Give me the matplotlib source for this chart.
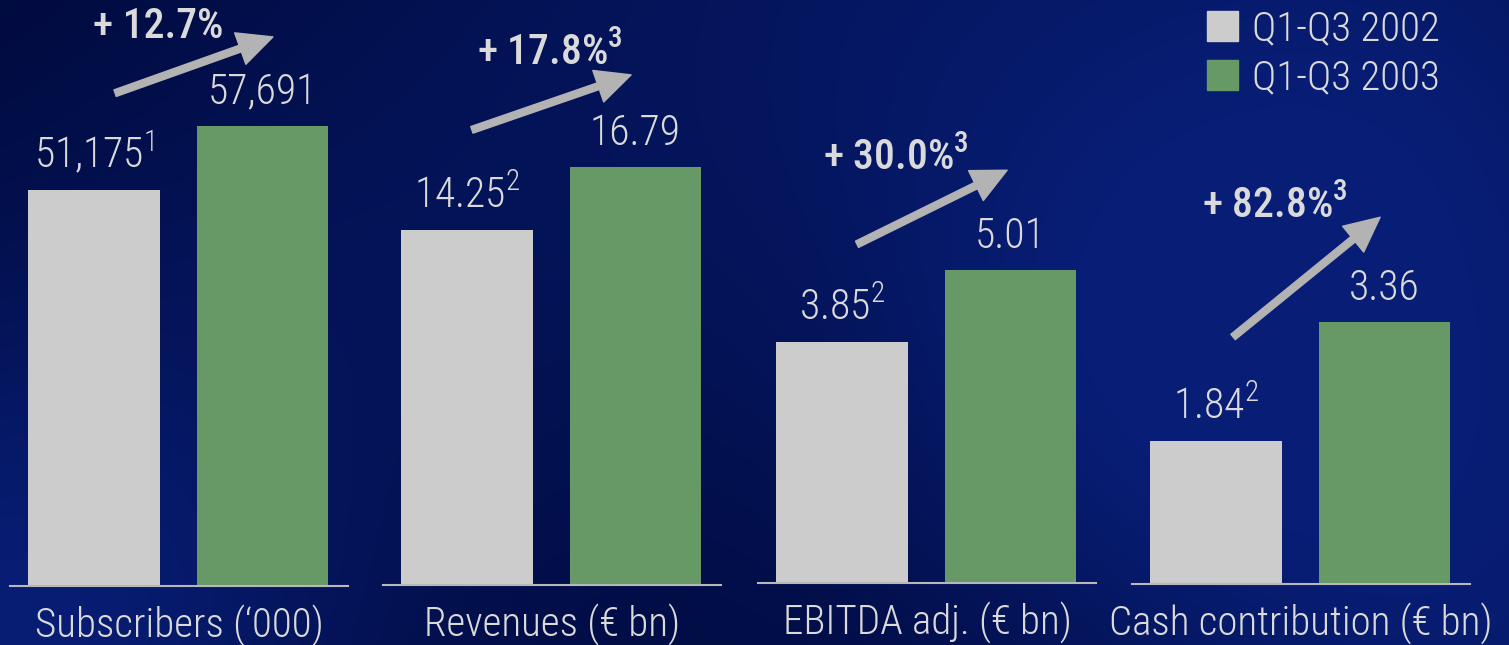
import numpy as np
import matplotlib.pyplot as plt
from matplotlib.patches import Patch

# chart data
categories = ["Subscribers (\u2018000)", "Revenues (\u20ac bn)", "EBITDA adj. (\u20ac bn)", "Cash contribution (\u20ac bn)"]
years = ["Q1-Q3 2002", "Q1-Q3 2003"]
values_2002 = [51175, 14.25, 3.85, 1.84]
values_2003 = [57691, 16.79, 5.01, 3.36]
labels_2002 = ["51,175$^{1}$", "14.25$^{2}$", "3.85$^{2}$", "1.84$^{2}$"]
labels_2003 = ["57,691", "16.79", "5.01", "3.36"]
growth = ["+ 12.7%", "+ 17.8%$^{3}$", "+ 30.0%$^{3}$", "+ 82.8%$^{3}$"]

# styling / layout
fonts = ["Roboto Condensed", "Liberation Sans Narrow", "Archivo Narrow", "DejaVu Sans"]
plt.rcParams['font.family'] = fonts
plt.rcParams['font.weight'] = 'light'
plt.rcParams['mathtext.fontset'] = 'custom'
plt.rcParams['mathtext.default'] = 'regular'

gray = '#cccccc'
green = '#669966'
txt = '#dadada'
arrow_col = '#b3b3b3'
W, H = 1509, 645

panel_left = [10, 383, 758, 1132]   # px
panel_base = [586, 585, 583, 584]   # px from top
panel_width = 338
ylims = [(10857, 70520), (0, 23.5), (0, 9.32), (0, 7.5)]  # subscribers axis is truncated in the original
# arrow tail/tip and growth label anchor in axes fraction
arrows = [((0.311, 0.841), (0.778, 0.937)),
          ((0.263, 0.778), (0.734, 0.872)),
          ((0.293, 0.581), (0.737, 0.708)),
          ((0.299, 0.423), (0.734, 0.628))]
growth_pos = [(0.246, 0.935), (0.278, 0.889), (0.192, 0.708), (0.207, 0.627)]

fig = plt.figure(figsize=(W / 100, H / 100), dpi=100)

# background
bg = fig.add_axes([0, 0, 1, 1], zorder=-5)
X, Y = np.meshgrid(np.arange(W), np.arange(H))
blobs = [(0, 645, 260, 0.95), (1509, 620, 300, 0.75), (900, 0, 380, 0.6),
         (1450, 80, 250, 0.5), (350, 250, 220, 0.2), (1150, 380, 200, 0.4)]
t = np.zeros_like(X, dtype=float)
for bx, by, s, a in blobs:
    t += a * np.exp(-((X - bx) ** 2 + (Y - by) ** 2) / (2 * s ** 2))
t = np.clip(t, 0, 1)[..., None]
dark = np.array([0, 9, 58]) / 255
light = np.array([8, 30, 118]) / 255
bg.imshow(dark + t * (light - dark), extent=[0, W, H, 0], aspect='auto')
bg.axis('off')

for i in range(4):
    ax = fig.add_axes([panel_left[i] / W, (H - panel_base[i]) / H,
                       panel_width / W, panel_base[i] / H])
    ax.set_facecolor('none')
    ax.bar([0, 1], [values_2002[i], values_2003[i]], width=0.78, color=[gray, green], zorder=2)
    ax.set_xlim(-0.5, 1.51)
    ax.set_ylim(*ylims[i])
    for s in ['top', 'left', 'right']:
        ax.spines[s].set_visible(False)
    ax.spines['bottom'].set_color('#b8b8b8')
    ax.spines['bottom'].set_linewidth(1.5)
    ax.spines['bottom'].set_zorder(3)
    ax.set_yticks([])
    ax.set_xticks([])
    ax.set_xlabel(categories[i], fontsize=29.5, fontweight='light', color=txt, labelpad=13)

    for x, v, lab in [(0, values_2002[i], labels_2002[i]), (1, values_2003[i], labels_2003[i])]:
        ax.annotate(lab, xy=(x, v), xytext=(0, 22), textcoords='offset pixels',
                    ha='center', va='baseline', fontsize=30, color=txt)

    tail, tip = arrows[i]
    ax.annotate('', xy=tip, xytext=tail, xycoords='axes fraction', textcoords='axes fraction',
                annotation_clip=False,
                arrowprops=dict(arrowstyle='simple,head_length=25,head_width=24,tail_width=5',
                                mutation_scale=1, color=arrow_col, shrinkA=0, shrinkB=0))
    ax.text(growth_pos[i][0], growth_pos[i][1], growth[i], transform=ax.transAxes,
            ha='left', va='baseline', fontsize=30, fontweight='medium', color=txt, clip_on=False)

handles = [Patch(color=gray), Patch(color=green)]
fig.legend(handles, years, loc='upper left', bbox_to_anchor=(1207 / W, 1 - 10 / H),
           frameon=False, fontsize=29.5, labelcolor=txt, handlelength=0.75, handleheight=0.75,
           handletextpad=0.35, labelspacing=0.26, borderpad=0, borderaxespad=0)

fig.savefig('out.png', dpi=100)
